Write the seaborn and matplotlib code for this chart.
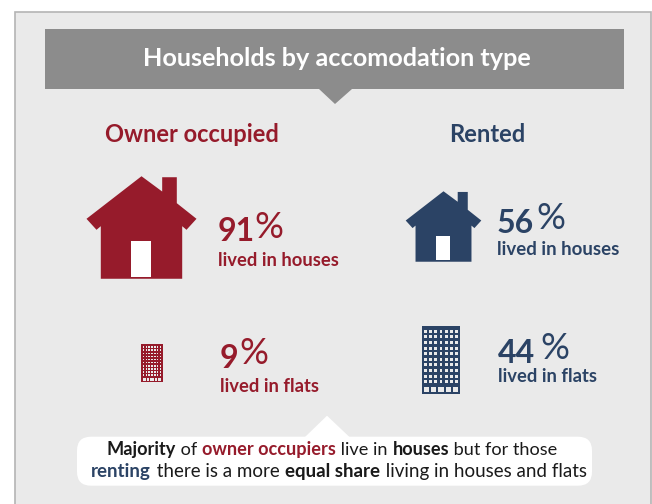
import matplotlib
matplotlib.use("Agg")
import matplotlib.pyplot as plt
import pandas as pd
import seaborn as sns
from matplotlib.patches import FancyBboxPatch, Polygon, Rectangle
from matplotlib.path import Path

# ---- data ----
title = "Households by accomodation type"
tenures = ["Owner occupied", "Rented"]
dwellings = ["houses", "flats"]
owner_share = [91, 9]
rented_share = [56, 44]
note_line1 = [("Majority", "bold", "k"), (" of ", "normal", "k"), ("owner occupiers", "bold", "r"),
              (" live in ", "normal", "k"), ("houses", "bold", "k"), (" but for those", "normal", "k")]
note_line2 = [("renting", "bold", "b"), (" there is a more ", "normal", "k"), ("equal share", "bold", "k"),
              (" living in houses and flats", "normal", "k")]

df = pd.DataFrame({
    "tenure": [tenures[0]] * 2 + [tenures[1]] * 2,
    "dwelling": dwellings * 2,
    "share": owner_share + rented_share,
})

# ---- style ----
RED, NAVY, PANEL, EDGE, BANNER = "#961B2B", "#2B4365", "#EAEAEA", "#B4B4B4", "#8C8C8C"
INK = {"k": "#1A1A1A", "r": RED, "b": NAVY}
sns.set_theme(style="white")
plt.rcParams["font.family"] = ["Lato", "DejaVu Sans"]
palette = {tenures[0]: RED, tenures[1]: NAVY}

# Icon shapes in unit space, scaled by the marker size
HOUSE = Path([(0, .466), (.188, .327), (.188, .457), (.321, .457), (.321, .221), (.5, .079),
              (.409, -.021), (.37, .012), (.37, -.466), (-.37, -.466), (-.37, .012),
              (-.409, -.021), (-.5, .079), (0, .466)], closed=True)
DOOR = Path([(-.265, -.5), (.265, -.5), (.265, .5), (-.265, .5), (-.265, -.5)], closed=True)


def box(x0, y0, x1, y1):
    return [(x0, y0), (x1, y0), (x1, y1), (x0, y1), (x0, y0)]


def flat_path():
    hw = .285
    verts = [(-hw, -.5), (-hw, .5), (hw, .5), (hw, -.5), (-hw, -.5)]
    codes = [Path.MOVETO] + [Path.LINETO] * 3 + [Path.CLOSEPOLY]
    for r in range(10):
        for c in range(7):
            x = -.225 + c * .075
            y = .425 - r * .083
            verts += box(x - .021, y - .022, x + .021, y + .022)
            codes += [Path.MOVETO] + [Path.LINETO] * 3 + [Path.CLOSEPOLY]
    for x0, x1 in [(-.25, -.17), (-.14, -.08), (.08, .14), (.17, .25), (-.05, .05)]:
        verts += box(x0, -.475, x1, -.39)
        codes += [Path.MOVETO] + [Path.LINETO] * 3 + [Path.CLOSEPOLY]
    return Path(verts, codes)


FLAT = flat_path()

# Layout: pixel positions on a 652x504 canvas
ICON = {(tenures[0], "houses"): (141, 227, 110), (tenures[1], "houses"): (442.5, 225.7, 75.6),
        (tenures[0], "flats"): (151.8, 362.7, 37.3), (tenures[1], "flats"): (440.8, 360, 68)}
# left, digit baseline, percent-sign left, percent-sign baseline, label baseline, label width
LABEL = {(tenures[0], "houses"): (218, 241, 254, 238, 266, 120),
         (tenures[1], "houses"): (497, 233, 536, 229, 255, 121),
         (tenures[0], "flats"): (220, 368, 239, 364, 392, 98),
         (tenures[1], "flats"): (498, 363, 540, 359, 382, 98)}

fig = plt.figure(figsize=(6.52, 5.04), dpi=100, facecolor="white")
ax = fig.add_axes([0, 0, 1, 1])
ax.set_xlim(0, 652)
ax.set_ylim(504, 0)
ax.axis("off")
renderer = fig.canvas.get_renderer()


def fitted(x, y, text, width, **kws):
    """Left-anchored text whose font size is tuned so the run spans `width` pixels."""
    t = ax.text(x, y, text, ha="left", va="baseline", zorder=3, **kws)
    t.set_fontsize(t.get_fontsize() * width / t.get_window_extent(renderer).width)
    return t


ax.add_patch(Rectangle((14.5, 11.5), 636, 510, fc=PANEL, ec=EDGE, lw=1.2, zorder=0))
ax.add_patch(Rectangle((44.5, 29), 579, 60, fc=BANNER, ec="none", zorder=1))
ax.add_patch(Polygon([(319, 89), (352, 89), (335, 104)], fc=BANNER, ec="none", zorder=1))
fitted(143, 66, title, 387, color="white", fontweight="bold")

px = 0.72  # points per pixel at dpi 100
for _, row in df.iterrows():
    key = (row.tenure, row.dwelling)
    cx, cy, size = ICON[key]
    colour = palette[row.tenure]
    shape = HOUSE if row.dwelling == "houses" else FLAT
    sns.scatterplot(x=[cx], y=[cy], marker=shape, s=(size * px) ** 2, color=colour,
                    linewidth=0, ax=ax, zorder=3, legend=False)
    if row.dwelling == "houses":
        sns.scatterplot(x=[cx], y=[cy + .29 * size], marker=DOOR, s=(.327 * size * px) ** 2,
                        color="white", linewidth=0, ax=ax, zorder=4, legend=False)
    lx, y_num, pct_x, y_pct, y_lab, w_lab = LABEL[key]
    ax.text(lx, y_num, f"{row.share}", color=colour, fontsize=23, fontweight="bold",
            ha="left", va="baseline", zorder=3)
    ax.text(pct_x, y_pct, "%", color=colour, fontsize=26, fontweight="normal",
            ha="left", va="baseline", zorder=3)
    fitted(lx, y_lab, f"lived in {row.dwelling}", w_lab, color=colour, fontweight="bold")

fitted(105, 142, tenures[0], 173, color=RED, fontweight="bold")
fitted(449, 142, tenures[1], 76, color=NAVY, fontweight="bold")

# Call-out with mixed-weight text
ax.add_patch(FancyBboxPatch((77, 436.7), 515, 49, boxstyle="round,pad=0,rounding_size=14",
                            fc="white", ec="none", zorder=2))
ax.add_patch(Polygon([(304.5, 437.5), (350, 437.5), (327, 415.7)], fc="white", ec="none", zorder=2))


def draw_line(parts, x_start, x_end, baseline):
    artists, widths = [], []
    for text, weight, ink in parts:
        t = ax.text(0, baseline, text.replace(" ", "\u00a0"), color=INK[ink], fontsize=14,
                    fontweight=weight, ha="left", va="baseline", zorder=3)
        artists.append(t)
        widths.append(t.get_window_extent(renderer).width)
    scale = (x_end - x_start) / sum(widths)
    x = x_start
    for t, w in zip(artists, widths):
        t.set_fontsize(14 * scale)
        t.set_x(x)
        x += w * scale


draw_line(note_line1, 106, 558, 455)
draw_line(note_line2, 91, 588, 477)

fig.savefig("out.png", dpi=100, facecolor="white")
